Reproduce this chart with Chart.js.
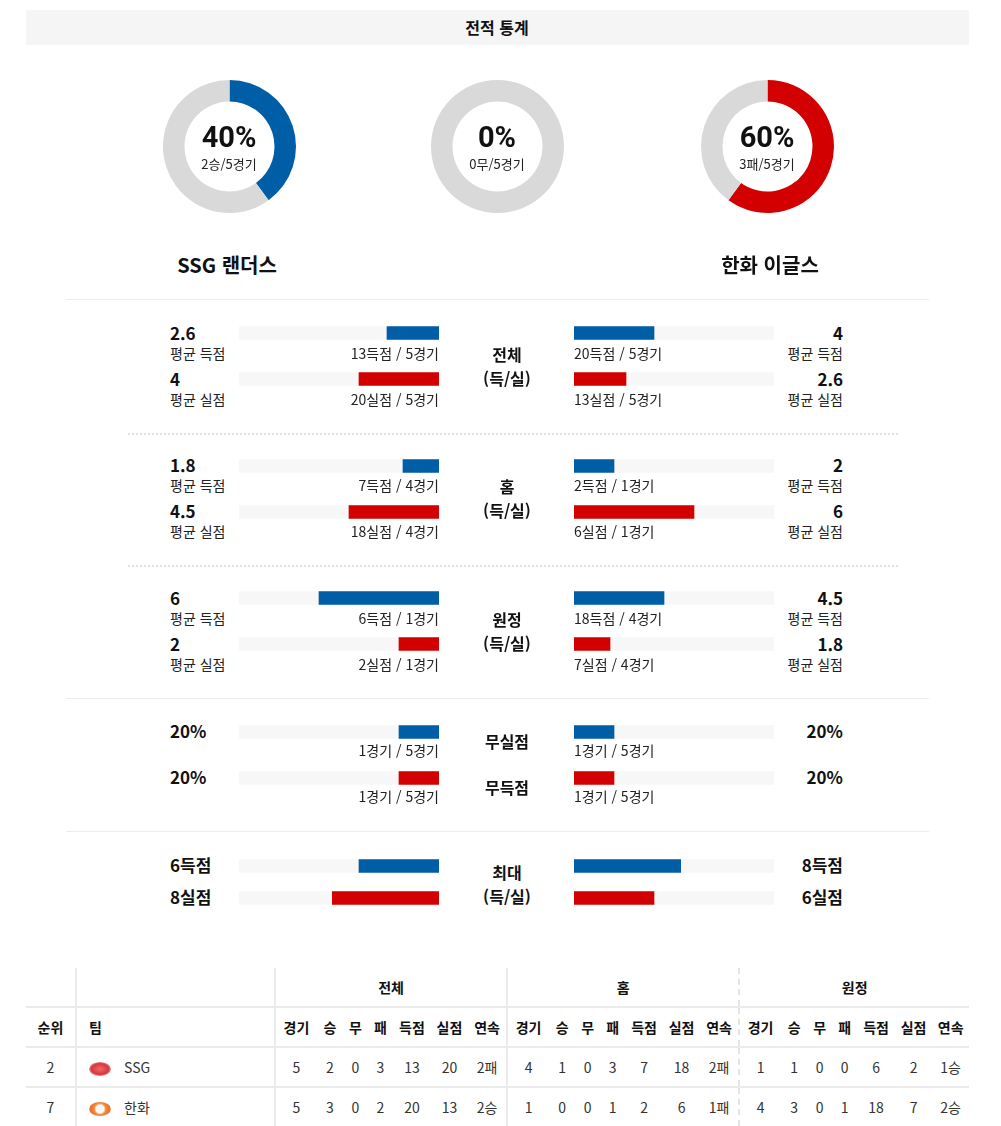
<!DOCTYPE html>
<html lang="ko">
<head>
<meta charset="utf-8">
<script src="https://cdn.jsdelivr.net/npm/chart.js@4.4.0/dist/chart.umd.min.js"></script>
<style>
  body { margin: 0; background: #fff; font-family: "Noto Sans CJK KR", "Noto Sans", sans-serif; color: #111; }
  #page { position: relative; width: 1001px; height: 1126px; overflow: hidden; }
  .t { position: absolute; white-space: nowrap; line-height: 1; }
  .box { position: absolute; }
  .big { font-size: 17px; font-weight: 700; }
  .sub { font-size: 14px; color: #222; }
  .small { font-size: 13px; color: #222; }
  .mid { font-size: 16px; font-weight: 700; }
  .pct { font-family: Roboto, "Noto Sans", sans-serif; font-size: 29px; font-weight: 700; }
  .team { font-size: 20px; font-weight: 700; }
  .hline { position: absolute; height: 0; border-top: 1px solid #ececec; }
  .dline { position: absolute; height: 0; border-top: 2px dotted #e2e2e2; }
  table { position: absolute; left: 26px; top: 968px; width: 943px; border-collapse: collapse; table-layout: fixed; font-size: 14px; }
  td, th { text-align: center; padding: 0; height: 38px; border-bottom: 2px solid #ebebeb; color: #333; font-weight: 400; }
  th { color: #111; font-weight: 700; }
  .br { border-right: 2px solid #ebebeb; }
  .bd { border-right: 2px dashed #e4e4e4; }
  .tl { text-align: left; padding-left: 12px; }
  .logo { display: inline-block; width: 22px; height: 14px; vertical-align: middle; margin-right: 13px; border-radius: 50%; }
</style>
</head>
<body>
<div id="page">
  <div class="box" style="left:26px;top:10px;width:943px;height:35px;background:#f5f5f5;"></div>
</div>
<script>
const BLUE = '#005ea6';
const RED = '#d20000';
const RING = '#d9d9d9';
const TRACK = '#f7f7f7';

// donuts
const donutPct = [40, 0, 60];
const donutSub = ['2승/5경기', '0무/5경기', '3패/5경기'];
const donutColor = [BLUE, RING, RED];
const teamNames = ['SSG 랜더스', '한화 이글스'];

// 득/실 (전체, 홈, 원정)
const splitLabels = ['전체', '홈', '원정'];
const ssgScoredAvg = [2.6, 1.8, 6];
const ssgAllowedAvg = [4, 4.5, 2];
const ssgScoredText = ['13득점 / 5경기', '7득점 / 4경기', '6득점 / 1경기'];
const ssgAllowedText = ['20실점 / 5경기', '18실점 / 4경기', '2실점 / 1경기'];
const hanScoredAvg = [4, 2, 4.5];
const hanAllowedAvg = [2.6, 6, 1.8];
const hanScoredText = ['20득점 / 5경기', '2득점 / 1경기', '18득점 / 4경기'];
const hanAllowedText = ['13실점 / 5경기', '6실점 / 1경기', '7실점 / 4경기'];

// 무실점 / 무득점 (%)
const zeroLabels = ['무실점', '무득점'];
const ssgZeroPct = [20, 20];
const hanZeroPct = [20, 20];
const ssgZeroText = ['1경기 / 5경기', '1경기 / 5경기'];
const hanZeroText = ['1경기 / 5경기', '1경기 / 5경기'];

// 최대 득/실
const ssgMax = [6, 8];
const hanMax = [8, 6];

// standings table
const tableGroups = ['전체', '홈', '원정'];
const tableCols = ['경기', '승', '무', '패', '득점', '실점', '연속'];
const rankCol = [2, 7];
const teamCol = ['SSG', '한화'];
const ssgRow = [[5, 2, 0, 3, 13, 20, '2패'], [4, 1, 0, 3, 7, 18, '2패'], [1, 1, 0, 0, 6, 2, '1승']];
const hanRow = [[5, 3, 0, 2, 20, 13, '2승'], [1, 0, 0, 1, 2, 6, '1패'], [4, 3, 0, 1, 18, 7, '2승']];

const page = document.getElementById('page');

function put(x, y, s, cls, align) {
  const d = document.createElement('div');
  d.className = 't ' + cls;
  d.textContent = s;
  d.style.top = (y - 1.5) + 'px';
  if (align === 'right') {
    d.style.right = (1001 - x) + 'px';
    d.style.transform = 'translateY(-50%)';
  } else if (align === 'center') {
    d.style.left = x + 'px';
    d.style.transform = 'translate(-50%,-50%)';
  } else {
    d.style.left = x + 'px';
    d.style.transform = 'translateY(-50%)';
  }
  page.appendChild(d);
}

function box(x, y, w, h) {
  const d = document.createElement('div');
  d.className = 'box';
  d.style.left = x + 'px';
  d.style.top = y + 'px';
  d.style.width = w + 'px';
  d.style.height = h + 'px';
  const c = document.createElement('canvas');
  d.appendChild(c);
  page.appendChild(d);
  return c;
}

function line(x1, x2, y, cls) {
  const d = document.createElement('div');
  d.className = cls;
  d.style.left = x1 + 'px';
  d.style.top = y + 'px';
  d.style.width = (x2 - x1) + 'px';
  page.appendChild(d);
}

put(497, 28, '전적 통계', 'mid', 'center');

// donuts
const donutX = [229, 497, 767];
donutPct.forEach((p, i) => {
  const c = box(donutX[i] - 66.5, 80, 133, 133);
  new Chart(c, {
    type: 'doughnut',
    data: {
      labels: ['a', 'b'],
      datasets: [{
        data: [p, 100 - p],
        backgroundColor: [donutColor[i], RING],
        borderWidth: 0
      }]
    },
    options: {
      responsive: true,
      maintainAspectRatio: false,
      animation: false,
      events: [],
      cutout: 45,
      plugins: { legend: { display: false }, tooltip: { enabled: false } }
    }
  });
  put(donutX[i], 138.5, p + '%', 'pct', 'center');
  put(donutX[i], 164.5, donutSub[i], 'small', 'center');
});
put(227, 266, teamNames[0], 'team', 'center');
put(770, 266, teamNames[1], 'team', 'center');

line(66, 929, 299, 'hline');

function bars(side, top, gap, values, max) {
  const h = gap * 2;
  const x = side === 'left' ? 239 : 574;
  const c = box(x, top - gap / 2, 200, h);
  new Chart(c, {
    type: 'bar',
    data: {
      labels: ['a', 'b'],
      datasets: [
        { data: values, backgroundColor: [BLUE, RED], barThickness: 13, grouped: false, order: 1 },
        { data: [max, max], backgroundColor: TRACK, barThickness: 13, grouped: false, order: 2 }
      ]
    },
    options: {
      indexAxis: 'y',
      responsive: true,
      maintainAspectRatio: false,
      animation: false,
      events: [],
      layout: { padding: 0 },
      plugins: { legend: { display: false }, tooltip: { enabled: false } },
      scales: {
        x: { display: false, min: 0, max: max, reverse: side === 'left' },
        y: { display: false }
      }
    }
  });
}

// 전체 / 홈 / 원정
const splitTop = [333, 465.5, 598];
splitLabels.forEach((lab, i) => {
  const y = splitTop[i];
  bars('left', y, 46, [ssgScoredAvg[i], ssgAllowedAvg[i]], 10);
  bars('right', y, 46, [hanScoredAvg[i], hanAllowedAvg[i]], 10);
  put(170, y, String(ssgScoredAvg[i]), 'big');
  put(170, y + 21, '평균 득점', 'sub');
  put(170, y + 46, String(ssgAllowedAvg[i]), 'big');
  put(170, y + 67, '평균 실점', 'sub');
  put(439, y + 21, ssgScoredText[i], 'sub', 'right');
  put(439, y + 67, ssgAllowedText[i], 'sub', 'right');
  put(574, y + 21, hanScoredText[i], 'sub');
  put(574, y + 67, hanAllowedText[i], 'sub');
  put(843, y, String(hanScoredAvg[i]), 'big', 'right');
  put(843, y + 21, '평균 득점', 'sub', 'right');
  put(843, y + 46, String(hanAllowedAvg[i]), 'big', 'right');
  put(843, y + 67, '평균 실점', 'sub', 'right');
  put(507, y + 22, lab, 'mid', 'center');
  put(507, y + 46, '(득/실)', 'mid', 'center');
});
line(128, 898, 433, 'dline');
line(128, 898, 565, 'dline');
line(66, 929, 698, 'hline');

// 무실점 / 무득점
const zy = 731.5;
bars('left', zy, 46, ssgZeroPct, 100);
bars('right', zy, 46, hanZeroPct, 100);
zeroLabels.forEach((lab, i) => {
  const y = zy + i * 46;
  put(170, y, ssgZeroPct[i] + '%', 'big');
  put(439, y + 20, ssgZeroText[i], 'sub', 'right');
  put(574, y + 20, hanZeroText[i], 'sub');
  put(843, y, hanZeroPct[i] + '%', 'big', 'right');
  put(507, y + 11, lab, 'mid', 'center');
});
line(66, 929, 831, 'hline');

// 최대
const my = 865.5;
bars('left', my, 32, ssgMax, 15);
bars('right', my, 32, hanMax, 15);
put(170, my, ssgMax[0] + '득점', 'big');
put(170, my + 32, ssgMax[1] + '실점', 'big');
put(843, my, hanMax[0] + '득점', 'big', 'right');
put(843, my + 32, hanMax[1] + '실점', 'big', 'right');
put(507, my + 8, '최대', 'mid', 'center');
put(507, my + 32, '(득/실)', 'mid', 'center');

// standings table
const colW = [[42, 26, 25, 25, 38, 37, 39], [42, 26, 25, 25, 38, 37, 39], [42, 26, 25, 25, 38, 37, 37]];
let html = '<colgroup><col style="width:50px"><col style="width:199px">';
colW.forEach(g => g.forEach(w => { html += '<col style="width:' + w + 'px">'; }));
html += '</colgroup>';
html += '<tr style="height:39px"><th class="br"></th><th class="br"></th>';
tableGroups.forEach((g, i) => {
  html += '<th colspan="7" class="' + (i === 0 ? 'br' : i === 1 ? 'bd' : '') + '">' + g + '</th>';
});
html += '</tr><tr style="height:40px"><th class="br">순위</th><th class="br tl">팀</th>';
tableGroups.forEach((g, i) => {
  tableCols.forEach((c, j) => {
    const cls = j === 6 ? (i === 0 ? 'br' : i === 1 ? 'bd' : '') : '';
    html += '<th class="' + cls + '">' + c + '</th>';
  });
});
html += '</tr>';
const logos = [
  'background:radial-gradient(ellipse at 50% 50%, #f06a6a 0%, #d9353b 55%, rgba(230,80,80,0.3) 80%, #fff 100%);',
  'background:radial-gradient(circle at 50% 50%, #f7f7f7 0%, #f7f7f7 30%, #f08a3a 45%, #e8702a 75%, #fff 100%);'
];
[ssgRow, hanRow].forEach((rows, r) => {
  html += '<tr style="height:40px"><td class="br">' + rankCol[r] + '</td>';
  html += '<td class="br tl"><span class="logo" style="' + logos[r] + '"></span>' + teamCol[r] + '</td>';
  rows.forEach((row, i) => {
    row.forEach((v, j) => {
      const cls = j === 6 ? (i === 0 ? 'br' : i === 1 ? 'bd' : '') : '';
      html += '<td class="' + cls + '">' + v + '</td>';
    });
  });
  html += '</tr>';
});
const table = document.createElement('table');
table.innerHTML = html;
page.appendChild(table);
</script>
</body>
</html>
